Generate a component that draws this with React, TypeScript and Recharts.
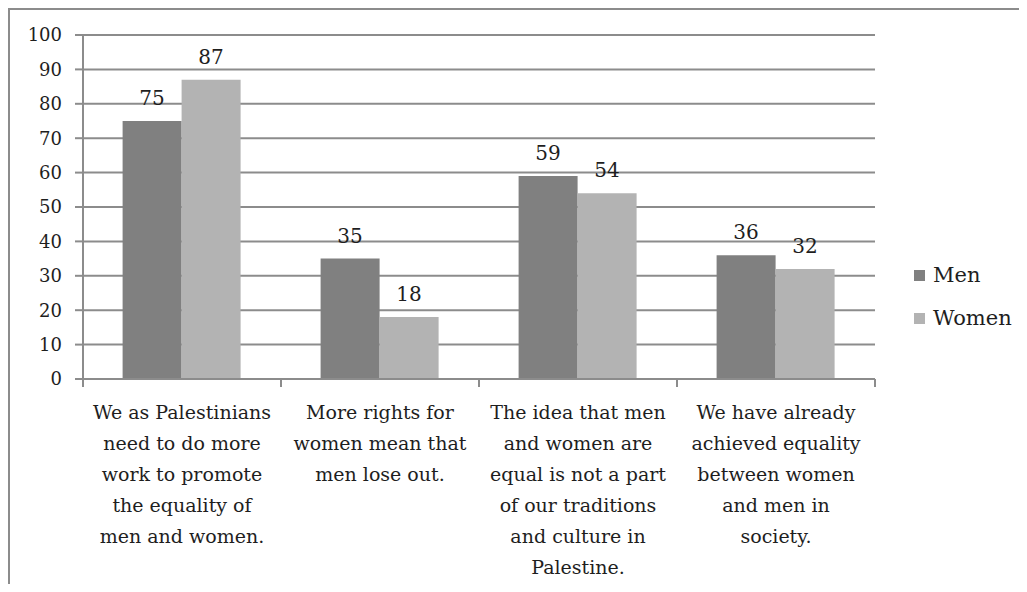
import { Bar, BarChart, CartesianGrid, LabelList, XAxis, YAxis } from 'recharts'

const CATEGORIES = [
  'We as Palestinians\nneed to do more\nwork to promote\nthe equality of\nmen and women.',
  'More rights for\nwomen mean that\nmen lose out.',
  'The idea that men\nand women are\nequal is not a part\nof our traditions\nand culture in\nPalestine.',
  'We have already\nachieved equality\nbetween women\nand men in\nsociety.',
]
const MEN = [75, 35, 59, 36]
const WOMEN = [87, 18, 54, 32]
const Y_TICKS = [0, 10, 20, 30, 40, 50, 60, 70, 80, 90, 100]

const SERIES = [
  { key: 'men', name: 'Men', color: '#808080' },
  { key: 'women', name: 'Women', color: '#b3b3b3' },
]

const data = CATEGORIES.map((label, i) => ({ label, men: MEN[i], women: WOMEN[i] }))

const W = 1027
const H = 592
const MARGIN = { top: 35, right: 152, bottom: 13, left: 10 }
const Y_AXIS_W = 73
const X_AXIS_H = 200
const FONT = 'DejaVu Serif, serif'
const GRID = '#8c8c8c'
const TEXT = '#1e1e1e'
const BAND = (W - MARGIN.left - MARGIN.right - Y_AXIS_W) / CATEGORIES.length

// Excel-style axis: tick marks sit between categories, labels wrap onto several lines
function CategoryTick(props: any) {
  const { x, y, payload, index } = props
  const lines = String(payload.value).split('\n')
  const isLast = index === CATEGORIES.length - 1
  return (
    <g>
      <line x1={x - BAND / 2} x2={x - BAND / 2} y1={y} y2={y + 8} stroke={GRID} strokeWidth={2} />
      {isLast && (
        <line x1={x + BAND / 2} x2={x + BAND / 2} y1={y} y2={y + 8} stroke={GRID} strokeWidth={2} />
      )}
      <text x={x} y={y + 40} textAnchor="middle" fill={TEXT} fontSize={19} fontFamily={FONT}>
        {lines.map((line, i) => (
          <tspan key={i} x={x} dy={i === 0 ? 0 : 31}>
            {line}
          </tspan>
        ))}
      </text>
    </g>
  )
}

export default function App() {
  return (
    <div
      style={{
        position: 'relative',
        width: W,
        height: H,
        margin: -8,
        overflow: 'hidden',
        background: '#fff',
        fontFamily: FONT,
      }}
    >
      <div
        style={{
          position: 'absolute',
          left: 8,
          top: 8,
          width: W + 40,
          height: H + 40,
          border: `2px solid ${GRID}`,
          boxSizing: 'border-box',
        }}
      />
      <svg style={{ position: 'absolute', left: 0, top: 0 }} width={W} height={20}>
        <text x={480} y={0} textAnchor="middle" fontSize={19} fill={TEXT} fontFamily={FONT}>
          Attitudes towards gender equality in the Palestinian society, in percent
        </text>
      </svg>
      <div style={{ position: 'absolute', left: 0, top: 0 }}>
        <BarChart width={W} height={H} data={data} margin={MARGIN} barGap={0} barCategoryGap="20%">
          <CartesianGrid vertical={false} stroke={GRID} strokeWidth={2} />
          <XAxis
            dataKey="label"
            height={X_AXIS_H}
            interval={0}
            tickLine={false}
            tickSize={0}
            tickMargin={0}
            axisLine={{ stroke: GRID, strokeWidth: 2 }}
            tick={<CategoryTick />}
          />
          <YAxis
            width={Y_AXIS_W}
            domain={[0, 100]}
            ticks={Y_TICKS}
            interval={0}
            tickSize={8}
            tickMargin={13}
            tickLine={{ stroke: GRID, strokeWidth: 2 }}
            axisLine={{ stroke: GRID, strokeWidth: 2 }}
            tick={{ fill: TEXT, fontSize: 18, fontFamily: FONT }}
          />
          {SERIES.map((s) => (
            <Bar key={s.key} dataKey={s.key} name={s.name} fill={s.color} isAnimationActive={false}>
              <LabelList
                dataKey={s.key}
                position="top"
                offset={16}
                fill={TEXT}
                fontSize={20}
                fontFamily={FONT}
              />
            </Bar>
          ))}
        </BarChart>
      </div>
      {SERIES.map((s, i) => (
        <div
          key={s.key}
          style={{
            position: 'absolute',
            left: 914,
            top: 262 + i * 43,
            height: 26,
            display: 'flex',
            alignItems: 'center',
            fontSize: 21,
            color: TEXT,
          }}
        >
          <span style={{ width: 11, height: 11, background: s.color, marginRight: 8 }} />
          {s.name}
        </div>
      ))}
    </div>
  )
}
